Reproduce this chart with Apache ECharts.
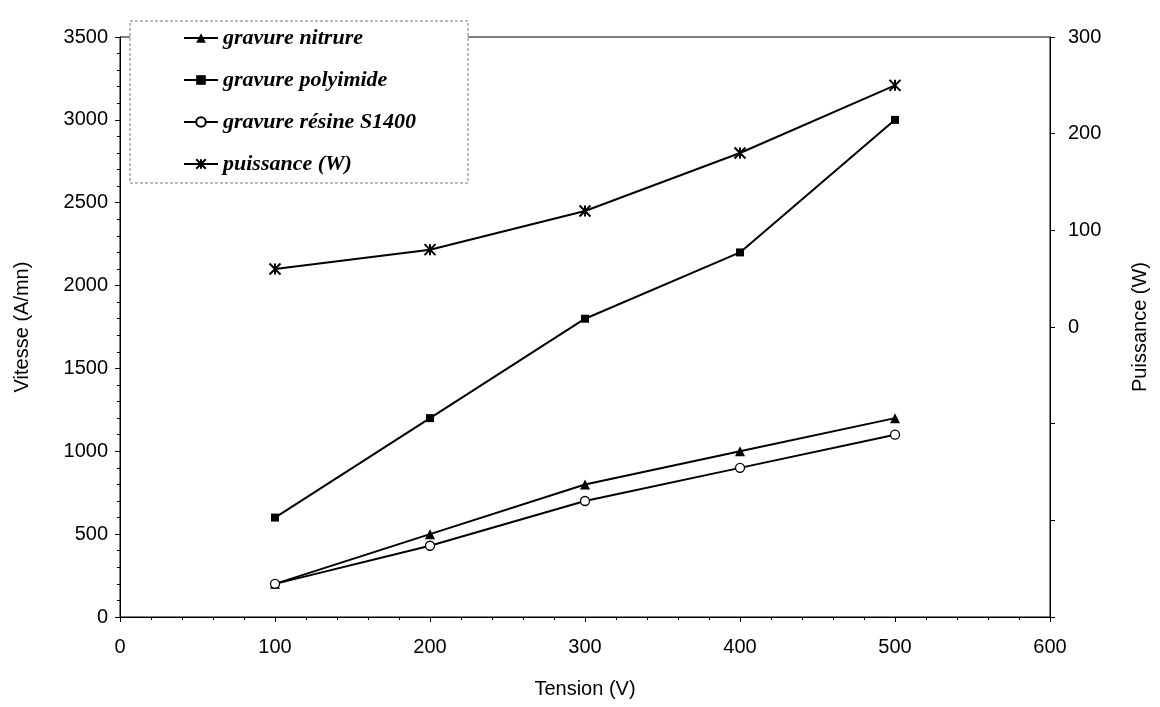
<!DOCTYPE html>
<html>
<head>
<meta charset="utf-8">
<script src="https://cdn.jsdelivr.net/npm/echarts@6/dist/echarts.min.js"></script>
<style>
  html, body { margin: 0; padding: 0; background: #fff; }
  #chart { width: 1160px; height: 707px; }
</style>
</head>
<body>
<div id="chart"></div>
<script>
// Tension (V)
const tension = [100, 200, 300, 400, 500];
// Etch rates (A/mn)
const nitrure = [200, 500, 800, 1000, 1200];
const polyimide = [600, 1200, 1800, 2200, 3000];
const resine = [200, 430, 700, 900, 1100];
// Power (W), right axis
const puissance = [60, 80, 120, 180, 250];

const seriesNames = ['gravure nitrure', 'gravure polyimide', 'gravure résine S1400', 'puissance (W)'];

const pairs = (ys) => tension.map((x, i) => [x, ys[i]]);

const axisFont = { fontFamily: 'Liberation Sans, Arial, sans-serif', fontSize: 20, color: '#000' };
const plain = (v) => String(v);
const asterisk = 'path://M0 0L10 10M10 0L0 10M5 0L5 10';

const chart = echarts.init(document.getElementById('chart'), null, { renderer: 'canvas' });

const baseLine = { type: 'line', showSymbol: true, lineStyle: { color: '#000', width: 2 }, z: 3 };

chart.setOption({
  animation: false,
  backgroundColor: '#fff',
  grid: { left: 120, right: 110, top: 37, bottom: 90, show: true, borderColor: '#000', borderWidth: 1 },
  graphic: [{
    type: 'rect',
    shape: { x: 130, y: 21, width: 338, height: 162 },
    style: { fill: '#fff', stroke: '#777', lineWidth: 1, lineDash: [3, 2] },
    z: 10
  }],
  legend: {
    data: seriesNames,
    orient: 'vertical',
    left: 178,
    top: 22,
    itemWidth: 34,
    itemHeight: 12,
    itemGap: 20,
    z: 11,
    textStyle: { fontFamily: 'Liberation Serif, Times New Roman, serif', fontStyle: 'italic', fontWeight: 'bold', fontSize: 22, color: '#000' }
  },
  xAxis: {
    type: 'value', min: 0, max: 600, interval: 100,
    name: 'Tension (V)', nameLocation: 'middle', nameGap: 62, nameTextStyle: axisFont,
    axisLine: { show: true, lineStyle: { color: '#000', width: 1 } },
    axisTick: { show: true, length: 5, lineStyle: { color: '#000' } },
    minorTick: { show: true, splitNumber: 5, length: 3, lineStyle: { color: '#000' } },
    axisLabel: Object.assign({ margin: 20, formatter: plain }, axisFont),
    splitLine: { show: false }
  },
  yAxis: [{
    type: 'value', min: 0, max: 3500, interval: 500, position: 'left',
    name: 'Vitesse (A/mn)', nameLocation: 'middle', nameGap: 88, nameTextStyle: axisFont,
    axisLine: { show: true, lineStyle: { color: '#000', width: 1 } },
    axisTick: { show: true, length: 5, lineStyle: { color: '#000' } },
    minorTick: { show: true, splitNumber: 5, length: 3, lineStyle: { color: '#000' } },
    axisLabel: Object.assign({ margin: 12, formatter: plain }, axisFont),
    splitLine: { show: false }
  }, {
    type: 'value', min: -300, max: 300, interval: 100, position: 'right',
    name: 'Puissance (W)', nameLocation: 'middle', nameGap: 80, nameTextStyle: axisFont,
    axisLine: { show: true, lineStyle: { color: '#000', width: 1 } },
    axisTick: { show: true, length: 5, lineStyle: { color: '#000' } },
    axisLabel: Object.assign({ margin: 18, formatter: (v) => (v >= 0 ? String(v) : '') }, axisFont),
    splitLine: { show: false }
  }],
  series: [
    Object.assign({}, baseLine, {
      name: seriesNames[0], data: pairs(nitrure), yAxisIndex: 0,
      symbol: 'triangle', symbolSize: 10, itemStyle: { color: '#000' }
    }),
    Object.assign({}, baseLine, {
      name: seriesNames[1], data: pairs(polyimide), yAxisIndex: 0,
      symbol: 'rect', symbolSize: 8, itemStyle: { color: '#000' }
    }),
    Object.assign({}, baseLine, {
      name: seriesNames[2], data: pairs(resine), yAxisIndex: 0,
      symbol: 'circle', symbolSize: 9, itemStyle: { color: '#fff', borderColor: '#000', borderWidth: 1.3 }
    }),
    Object.assign({}, baseLine, {
      name: seriesNames[3], data: pairs(puissance), yAxisIndex: 1,
      symbol: asterisk, symbolSize: 11, itemStyle: { color: '#000', borderColor: '#000', borderWidth: 2 }
    })
  ]
});
</script>
</body>
</html>
